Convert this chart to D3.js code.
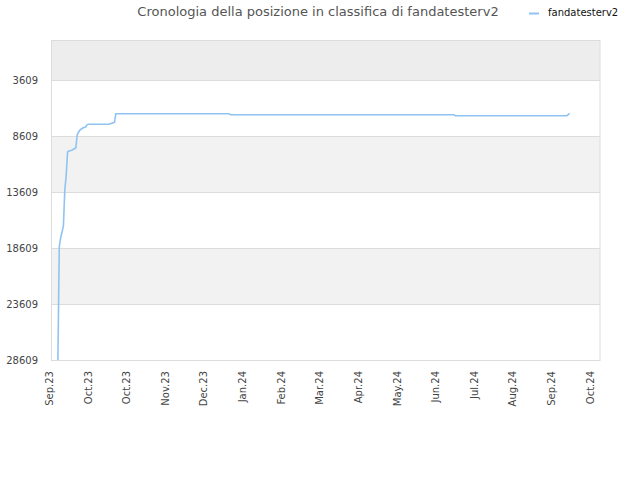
<!DOCTYPE html>
<html>
<head>
<meta charset="utf-8">
<script src="https://cdn.jsdelivr.net/npm/d3@7"></script>
<style>
  html, body { margin: 0; padding: 0; background: #fff; }
  svg { display: block; font-family: "DejaVu Sans", sans-serif; }
</style>
</head>
<body>
<svg id="chart" width="640" height="480"></svg>
<script>
// Days counted from the first x tick (Sep.23)
const days = [5, 6, 7, 8, 9, 10, 11, 12, 13, 15, 17, 18, 19, 20, 21, 22, 23, 25, 26, 27, 42, 46, 47, 129, 130, 292, 293, 374, 376];
const ranks = [28609, 18493, 17716, 17180, 16645, 13430, 12180, 10038, 9948, 9886, 9743, 9680, 8520, 8252, 8073, 7984, 7895, 7805, 7627, 7564, 7564, 7386, 6618, 6618, 6707, 6707, 6796, 6796, 6582];

const xTickDays = [0, 28, 56, 84, 112, 140, 168, 196, 224, 252, 280, 308, 336, 364, 392];
const xTickLabels = ['Sep.23', 'Oct.23', 'Oct.23', 'Nov.23', 'Dec.23', 'Jan.24', 'Feb.24', 'Mar.24', 'Apr.24', 'May.24', 'Jun.24', 'Jul.24', 'Aug.24', 'Sep.24', 'Oct.24'];
const yTicks = [28609, 23609, 18609, 13609, 8609, 3609];

const seriesName = 'fandatesterv2';
const title = 'Cronologia della posizione in classifica di fandatesterv2';

const margin = { top: 40, right: 40, bottom: 120, left: 51 };
const W = 640, H = 480;
const iw = W - margin.left - margin.right;
const ih = H - margin.top - margin.bottom;
const lineColor = '#90c3f3';

const svg = d3.select('#chart');
const g = svg.append('g').attr('transform', `translate(${margin.left},${margin.top})`);

const x = d3.scaleLinear().domain([0, 398]).range([0, iw]);
const y = d3.scaleLinear().domain([28609, 38]).range([ih, 0]);

// Alternating bands between y ticks (top band slightly darker)
const bandEdges = [y.domain()[1]].concat(yTicks.slice().reverse());
for (let i = 0; i < bandEdges.length - 1; i++) {
    const y0 = y(bandEdges[i]), y1 = y(bandEdges[i + 1]);
    let fill = null;
    if (i === 0) fill = '#ededed';
    else if (i % 2 === 0) fill = '#f2f2f2';
    if (fill) g.append('rect').attr('x', 0).attr('y', y0).attr('width', iw).attr('height', y1 - y0).attr('fill', fill);
}

// Grid lines
g.selectAll('.grid').data(yTicks).join('line')
    .attr('x1', 0).attr('x2', iw)
    .attr('y1', d => y(d) + 0.5).attr('y2', d => y(d) + 0.5)
    .attr('stroke', '#dcdcdc').attr('stroke-width', 1);

// Frame
g.append('rect').attr('x', 0.5).attr('y', 0.5).attr('width', iw - 0.5).attr('height', ih)
    .attr('fill', 'none').attr('stroke', '#dcdcdc');

// Y axis labels
g.selectAll('.ylab').data(yTicks).join('text')
    .attr('x', -13).attr('y', d => y(d) + 4)
    .attr('text-anchor', 'end').attr('font-size', 10).attr('fill', '#444')
    .text(d => d);

// X axis labels (rotated)
g.selectAll('.xlab').data(xTickDays).join('text')
    .attr('transform', d => `translate(${x(d) + 2},${ih + 11}) rotate(-90)`)
    .attr('text-anchor', 'end').attr('font-size', 10).attr('fill', '#444')
    .text((d, i) => xTickLabels[i]);

// Line
const pts = days.map((d, i) => ({ d, r: ranks[i] }));
g.append('path').datum(pts)
    .attr('d', d3.line().x(p => x(p.d)).y(p => y(p.r)))
    .attr('fill', 'none').attr('stroke', lineColor).attr('stroke-width', 1.6);

// Title
svg.append('text').attr('x', 318).attr('y', 16)
    .attr('text-anchor', 'middle').attr('font-size', 13).attr('fill', '#555')
    .text(title);

// Legend
svg.append('line').attr('x1', 529).attr('x2', 539).attr('y1', 13.5).attr('y2', 13.5)
    .attr('stroke', lineColor).attr('stroke-width', 2);
svg.append('text').attr('x', 548).attr('y', 16)
    .attr('font-size', 10).attr('fill', '#111')
    .text(seriesName);
</script>
</body>
</html>
